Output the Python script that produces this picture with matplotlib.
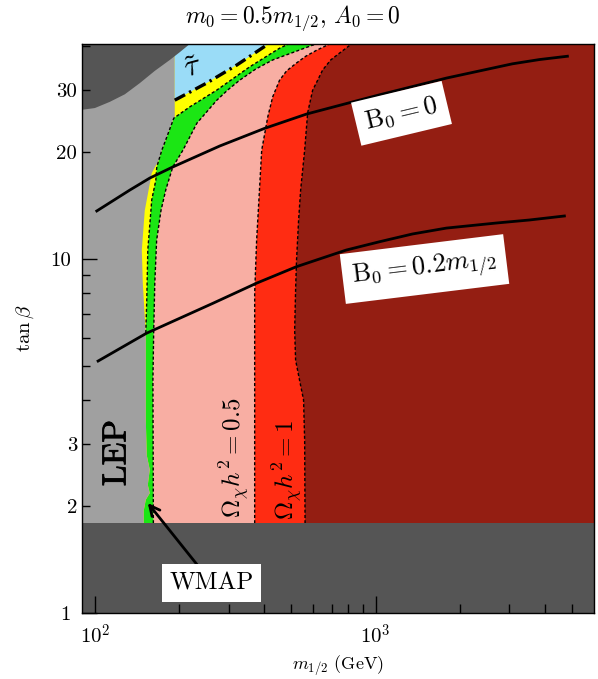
import matplotlib
matplotlib.use('Agg')
import matplotlib.pyplot as plt
import matplotlib.patheffects as pe

plt.rcParams['font.family'] = 'serif'
plt.rcParams['font.serif'] = ['cmr10']
plt.rcParams['mathtext.fontset'] = 'cm'
plt.rcParams['axes.formatter.use_mathtext'] = True

# --- contour data: m_1/2 (GeV) against tan(beta) ---
# relic density Omega h^2 = 1 (edge of the dark red region)
omega1_m = [563, 559, 554, 536, 519, 515, 519, 523, 532, 541, 559, 573, 597, 622, 648, 692, 745, 821]
omega1_tb = [1.0, 3.08, 4.00, 4.55, 5.18, 6.30, 8.18, 9.94, 12.9, 15.7, 20.3, 25.9, 30.0, 32.0,
             34.2, 36.5, 38.2, 40.5]

# Omega h^2 = 0.5
omega05_m = [371, 371, 371, 377, 393, 413, 430, 455, 482, 523, 564, 617, 686]
omega05_tb = [1.0, 4.00, 8.02, 11.3, 20.3, 25.2, 28.7, 32.0, 34.0, 35.8, 37.4, 38.9, 40.5]

# WMAP strip, upper edge
wmap_hi_m = [162, 161, 162, 163.5, 166, 172, 179, 189.5, 206, 231, 272, 297, 328, 374, 430, 597, 622]
wmap_hi_tb = [1.0, 4.55, 6.18, 8.55, 11.3, 13.7, 15.7, 18.2, 20.3, 24.2, 28.1, 30.0, 32.0, 34.4,
              36.5, 40.2, 40.5]

# WMAP strip, lower edge
wmap_lo_m = [149.4, 149.4, 151.9, 156.9, 154.4, 156.9, 153.1, 151.9, 151.9, 151.9, 153.1, 154.4,
             159.5, 164.9, 166.2, 173.2, 180.4, 191.1, 217.8, 271.8, 356, 455, 490]
wmap_lo_tb = [1.0, 1.95, 2.09, 2.18, 2.30, 2.54, 2.79, 3.51, 4.55, 6.18, 7.66, 10.6,
              14.7, 16.7, 18.2, 20.3, 22.1, 25.0, 26.9, 30.0, 34.9, 39.4, 40.5]

# LEP excluded region, right edge
lep_m = [149.4, 149.4, 151.9, 156.9, 154.4, 156.9, 153.1, 151.9, 151.9, 151.9, 150.6, 148.2,
         147.0, 150.6, 159.5, 169, 173.2, 180.4, 191.1, 192.6, 192.6]
lep_tb = [1.0, 1.95, 2.09, 2.18, 2.30, 2.54, 2.79, 3.51, 4.55, 6.18, 6.86, 8.55,
          10.6, 13.7, 17.5, 19.0, 20.3, 22.1, 25.0, 25.0, 40.5]

# charged stau LSP boundary (dash-dot)
stau_m = [192.6, 250, 320, 409, 416]
stau_tb = [28.1, 31.4, 35.3, 40.2, 40.5]

# top-left excluded corner
corner_m = [85, 89.9, 100, 113.1, 127.9, 144.6, 163.5, 184.9, 200.7, 217.8]
corner_tb = [26.4, 26.4, 26.7, 27.8, 29.2, 31.4, 34.0, 36.5, 38.4, 40.5]

tb_floor = 1.8

# B0 = 0 and B0 = 0.2 m_1/2 curves
b0_m = [101.6, 133.2, 156.9, 189.5, 278.6, 402.7, 568, 1033, 1789, 3072, 3834, 4824]
b0_tb = [13.67, 15.66, 16.93, 18.2, 20.86, 23.4, 25.68, 29.1, 32.45, 35.6, 36.6, 37.4]
b02_m = [102.7, 152.7, 263.6, 376, 522, 786, 1033, 1354, 1789, 2695, 3532, 4706]
b02_tb = [5.15, 6.17, 7.50, 8.54, 9.51, 10.6, 11.19, 11.77, 12.23, 12.64, 12.89, 13.23]

x_lo, x_hi = 90, 6000
y_lo, y_hi = 1, 40.5

c_dkgray = '#555555'
c_gray = '#a0a0a0'
c_blue = '#9adcf7'
c_yellow = '#ffff00'
c_green = '#1be614'
c_pink = '#f8aea3'
c_red = '#ff2c12'
c_dkred = '#941e12'

fig = plt.figure(figsize=(5.98, 6.79), dpi=100)
ax = fig.add_axes([82 / 598, 66 / 679, 512 / 598, 569 / 679])
ax.set_xscale('log')
ax.set_yscale('log')
ax.set_xlim(x_lo, x_hi)
ax.set_ylim(y_lo, y_hi)
ax.set_facecolor(c_dkred)


def fill_left(xs, ys, color, z):
    # area between the left frame and a boundary curve
    px = [80] + list(xs) + [80]
    py = [ys[0]] + list(ys) + [ys[-1]]
    ax.fill(px, py, color=color, lw=0, zorder=z)


fill_left(omega1_m, omega1_tb, c_red, 1)
fill_left(omega05_m, omega05_tb, c_pink, 1.1)
fill_left(wmap_hi_m, wmap_hi_tb, c_green, 1.2)
fill_left(wmap_lo_m, wmap_lo_tb, c_yellow, 1.3)
fill_left(lep_m, lep_tb, c_gray, 1.4)

# stau region
ax.fill(stau_m + [192.6], stau_tb + [40.5], color=c_blue, lw=0, zorder=1.5)
# top-left corner
ax.fill(corner_m + [80], corner_tb + [40.5], color=c_dkgray, lw=0, zorder=1.6)

dash = (0, (2.2, 1.6))
ax.plot(omega1_m, omega1_tb, color='k', lw=1.0, ls=dash, zorder=2)
ax.plot(omega05_m, omega05_tb, color='k', lw=1.0, ls=dash, zorder=2)
ax.plot(wmap_hi_m, wmap_hi_tb, color='k', lw=1.0, ls=dash, zorder=2)
ax.plot(wmap_lo_m[9:], wmap_lo_tb[9:], color='k', lw=1.0, ls=dash, zorder=2)
ax.plot(stau_m, stau_tb, color='k', lw=2.4, ls=(0, (3.5, 1.4, 0.7, 1.4)), zorder=2.1)

ax.plot(b0_m, b0_tb, color='k', lw=2.0, zorder=3)
ax.plot(b02_m, b02_tb, color='k', lw=2.0, zorder=3)

# low tan(beta) excluded band
ax.fill([80, 8000, 8000, 80], [0.9, 0.9, tb_floor, tb_floor], color=c_dkgray, lw=0, zorder=4)

box = dict(boxstyle='square,pad=0.35', fc='white', ec='none')
ax.text(1237, 25.8, r'$\mathrm{B}_0 = 0$', fontsize=19, rotation=13.5,
        ha='center', va='center', bbox=box, zorder=5)
ax.text(1494, 9.37, r'$\mathrm{B}_0 = 0.2m_{1/2}$', fontsize=19, rotation=7,
        ha='center', va='center', bbox=box, zorder=5)
ax.text(119.8, 2.83, 'LEP', fontsize=24, rotation=90, ha='center', va='center', zorder=5,
        path_effects=[pe.withStroke(linewidth=0.6, foreground='k')])
ax.text(315, 2.74, r'$\Omega_\chi h^2 = 0.5$', fontsize=18, rotation=90,
        ha='center', va='center', zorder=5)
ax.text(486, 2.54, r'$\Omega_\chi h^2 = 1$', fontsize=18, rotation=90,
        ha='center', va='center', zorder=5)
ax.text(223, 34.6, r'$\tilde{\tau}$', fontsize=22, rotation=15,
        ha='center', va='center', zorder=5)
ax.annotate('WMAP', xy=(154.4, 2.045), xytext=(261, 1.215), fontsize=18,
            ha='center', va='center', bbox=dict(boxstyle='square,pad=0.3', fc='white', ec='none'),
            arrowprops=dict(arrowstyle='->', color='k', lw=2.0, mutation_scale=18,
                            shrinkA=0, shrinkB=0),
            zorder=6)

ax.set_xticks([100, 1000], labels=[r'$10^2$', r'$10^3$'])
ax.set_xticks([200, 300, 400, 500, 600, 700, 800, 900, 2000, 3000, 4000, 5000],
              labels=[''] * 12, minor=True)
ax.set_yticks([1, 10], labels=['1', '10'])
ax.set_yticks([2, 3, 4, 5, 6, 7, 8, 9, 20, 30, 40],
              labels=['2', '3', '', '', '', '', '', '', '20', '30', ''], minor=True)
ax.tick_params(which='both', direction='in', top=False, right=False, labelsize=15, width=1.0)
ax.tick_params(axis='x', which='major', length=12, pad=8)
ax.tick_params(axis='x', which='minor', length=6.5)
ax.tick_params(axis='y', which='major', length=11, pad=8)
ax.tick_params(axis='y', which='minor', length=6)
ax.xaxis.set_zorder(10)
ax.yaxis.set_zorder(10)
for sp in ax.spines.values():
    sp.set_zorder(10)
    sp.set_linewidth(1.0)

ax.set_xlabel(r'$m_{1/2}$ (GeV)', fontsize=13, labelpad=4)
ax.set_ylabel(r'$\tan\beta$', fontsize=15, labelpad=10)
fig.text(0.49, 0.973, r'$m_0 = 0.5m_{1/2},\, A_0 = 0$', fontsize=17, ha='center', va='center')

fig.savefig('out.png', dpi=100)
